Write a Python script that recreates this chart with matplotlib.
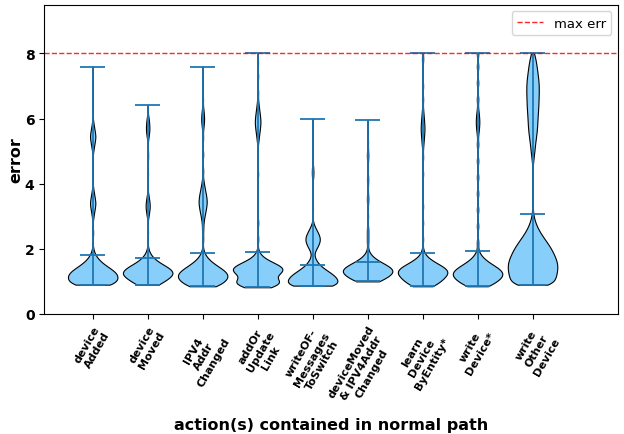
import numpy as np
import matplotlib
matplotlib.use("Agg")
import matplotlib.pyplot as plt

labels = ["device\nAdded", "device\nMoved", "IPV4\nAddr\nChanged", "addOr\nUpdate\nLink",
          "writeOF-\nMessages\nToSwitch", "deviceMoved\n& IPV4Addr\nChanged",
          "learn\nDevice\nByEntity*", "write\nDevice*", "write\nOther\nDevice"]
max_err = 8.0

# error values and how often each one occurs, per action
vals1 = [0.9, 1.0, 1.1, 1.2, 1.3, 1.4, 1.5, 1.6, 1.7, 1.8, 1.9, 2.0, 2.5, 3.0, 3.2, 3.4, 3.6,
         3.8, 4.5, 5.05, 5.25, 5.45, 5.65, 5.85, 6.5, 7.0, 7.6]
cnt1 = [100, 85, 95, 95, 85, 65, 45, 30, 18, 10, 5, 2, 5, 6, 14, 22, 14, 6, 3, 6, 14, 22,
        14, 6, 3, 2, 1]

vals2 = [0.9, 1.0, 1.1, 1.2, 1.3, 1.4, 1.5, 1.6, 1.7, 1.8, 1.9, 2.0, 2.5, 3.0, 3.16, 3.32,
         3.48, 3.64, 4.3, 4.8, 5.0, 5.4, 5.55, 5.7, 5.85, 6.0, 6.41]
cnt2 = [55, 55, 80, 100, 100, 85, 60, 38, 22, 12, 6, 2, 4, 5, 10, 14, 10, 5, 4, 4, 3, 4, 8,
        11, 8, 7, 1]

vals3 = [0.85, 0.95, 1.05, 1.15, 1.25, 1.35, 1.45, 1.55, 1.65, 1.75, 1.85, 1.95, 2.3, 2.6,
         2.85, 3.05, 3.25, 3.45, 3.65, 3.85, 4.05, 4.4, 4.9, 5.4, 5.7, 5.85, 6.0, 6.15, 6.3,
         6.6, 7.1, 7.59]
cnt3 = [65, 75, 90, 100, 95, 80, 60, 40, 25, 14, 7, 3, 6, 6, 8, 16, 26, 32, 26, 16, 8, 6, 6,
        5, 4, 7, 9, 7, 4, 4, 3, 2]

vals4 = [0.82, 0.92, 1.02, 1.12, 1.22, 1.32, 1.42, 1.52, 1.62, 1.72, 1.82, 1.92, 2.3, 2.8,
         4.3, 5.3, 5.5, 5.7, 5.9, 6.1, 6.3, 6.5, 6.8, 7.3, 7.7, 8.0]
cnt4 = [45, 95, 85, 40, 70, 95, 95, 70, 40, 20, 9, 3, 6, 6, 5, 5, 10, 16, 20, 16, 10, 5, 5,
        5, 4, 2]

vals5 = [0.87, 0.97, 1.07, 1.17, 1.27, 1.37, 1.47, 1.57, 1.67, 1.77, 1.97, 2.1, 2.25, 2.4,
         2.55, 2.7, 3.2, 3.6, 4.2, 4.35, 4.5, 5.0, 5.5, 5.98]
cnt5 = [150, 110, 115, 105, 80, 55, 35, 22, 13, 8, 18, 36, 54, 48, 30, 12, 5, 4, 5, 6, 5,
        4, 3, 2]

vals6 = [1.0, 1.1, 1.2, 1.3, 1.4, 1.5, 1.6, 1.7, 1.8, 1.9, 2.2, 2.4, 2.6, 3.0, 3.33, 3.53,
         3.73, 4.0, 4.2, 4.66, 4.86, 5.06, 5.3, 5.6, 5.97]
cnt6 = [50, 65, 85, 100, 95, 70, 45, 25, 12, 5, 6, 5, 6, 5, 3, 6, 3, 4, 5, 3, 6, 3, 4, 4, 2]

vals7 = [0.85, 0.95, 1.05, 1.15, 1.25, 1.35, 1.45, 1.55, 1.65, 1.75, 1.85, 1.95, 2.3, 2.8,
         3.3, 4.3, 4.8, 5.1, 5.3, 5.5, 5.7, 5.9, 6.1, 6.3, 6.6, 7.0, 7.8, 8.0]
cnt7 = [45, 60, 75, 85, 100, 100, 80, 55, 32, 16, 7, 3, 6, 6, 6, 6, 6, 4, 8, 12, 15, 12, 8,
        4, 6, 6, 6, 3]

vals8 = [0.85, 0.95, 1.05, 1.15, 1.25, 1.35, 1.45, 1.55, 1.65, 1.75, 1.85, 1.95, 2.2, 2.7,
         3.2, 3.7, 4.2, 4.7, 5.2, 5.5, 5.7, 5.9, 6.1, 6.3, 6.6, 7.1, 7.6, 8.0]
cnt8 = [45, 65, 80, 95, 100, 90, 70, 48, 30, 17, 8, 3, 8, 8, 8, 8, 8, 8, 8, 5, 11, 14, 11,
        5, 8, 8, 8, 8]

vals9 = [0.9, 1.0, 1.1, 1.2, 1.3, 1.4, 1.5, 1.6, 1.7, 1.8, 1.9, 2.0, 2.1, 2.2, 2.3, 2.4,
         2.5, 2.6, 2.7, 2.8, 2.9, 3.0, 3.1, 3.2, 3.4, 3.8, 4.2, 4.6, 4.8, 5.0, 5.2, 5.4, 5.6,
         5.8, 6.0, 6.2, 6.4, 6.6, 6.8, 7.0, 7.2, 7.4, 7.6, 7.8, 8.0]
cnt9 = [110, 105, 110, 115, 118, 120, 120, 118, 112, 105, 98, 90, 80, 70, 58, 47, 37, 28,
        20, 14, 9, 5, 3, 2, 3, 3, 3, 4, 10, 18, 24, 32, 40, 45, 48, 52, 56, 58, 60, 60, 56,
        48, 40, 30, 15]

all_vals = [vals1, vals2, vals3, vals4, vals5, vals6, vals7, vals8, vals9]
all_cnts = [cnt1, cnt2, cnt3, cnt4, cnt5, cnt6, cnt7, cnt8, cnt9]
data = [np.repeat(v, c) for v, c in zip(all_vals, all_cnts)]

fig, ax = plt.subplots(figsize=(6.24, 4.35), dpi=100)
fig.subplots_adjust(left=0.071, right=0.99, top=0.987, bottom=0.276)

pos = np.arange(1, len(data) + 1)
# fixed kernel width (0.12 in error units) for every violin
vp = ax.violinplot(data, positions=pos, widths=0.9, showmeans=True, points=300,
                   bw_method=lambda k: 0.12 / k.dataset.std(ddof=1))
for b in vp['bodies']:
    b.set_facecolor('#87CEFA')
    b.set_edgecolor('black')
    b.set_linewidth(0.8)
    b.set_alpha(1)
for key in ['cmaxes', 'cmins', 'cbars', 'cmeans']:
    vp[key].set_color('#1f77b4')
    vp[key].set_linewidth(1.3)

ax.axhline(max_err, color='red', linestyle='--', linewidth=1, alpha=0.85, label='max err')
ax.legend(loc='upper right', fontsize=9.5)

ax.set_xlim(0.12, 10.55)
ax.set_ylim(0, 9.5)
ax.set_yticks([0, 2, 4, 6, 8])
ax.set_xticks(pos)
ax.set_xticklabels(labels, rotation=60, ha='right', rotation_mode='anchor',
                   multialignment='center', fontsize=8, fontweight='bold')
for t in ax.get_yticklabels():
    t.set_fontweight('bold')
    t.set_fontsize(10)
ax.set_ylabel('error', fontsize=11.5, fontweight='bold', labelpad=1)
ax.set_xlabel('action(s) contained in normal path', fontsize=11.5, fontweight='bold')

fig.savefig('out.png', dpi=100)
